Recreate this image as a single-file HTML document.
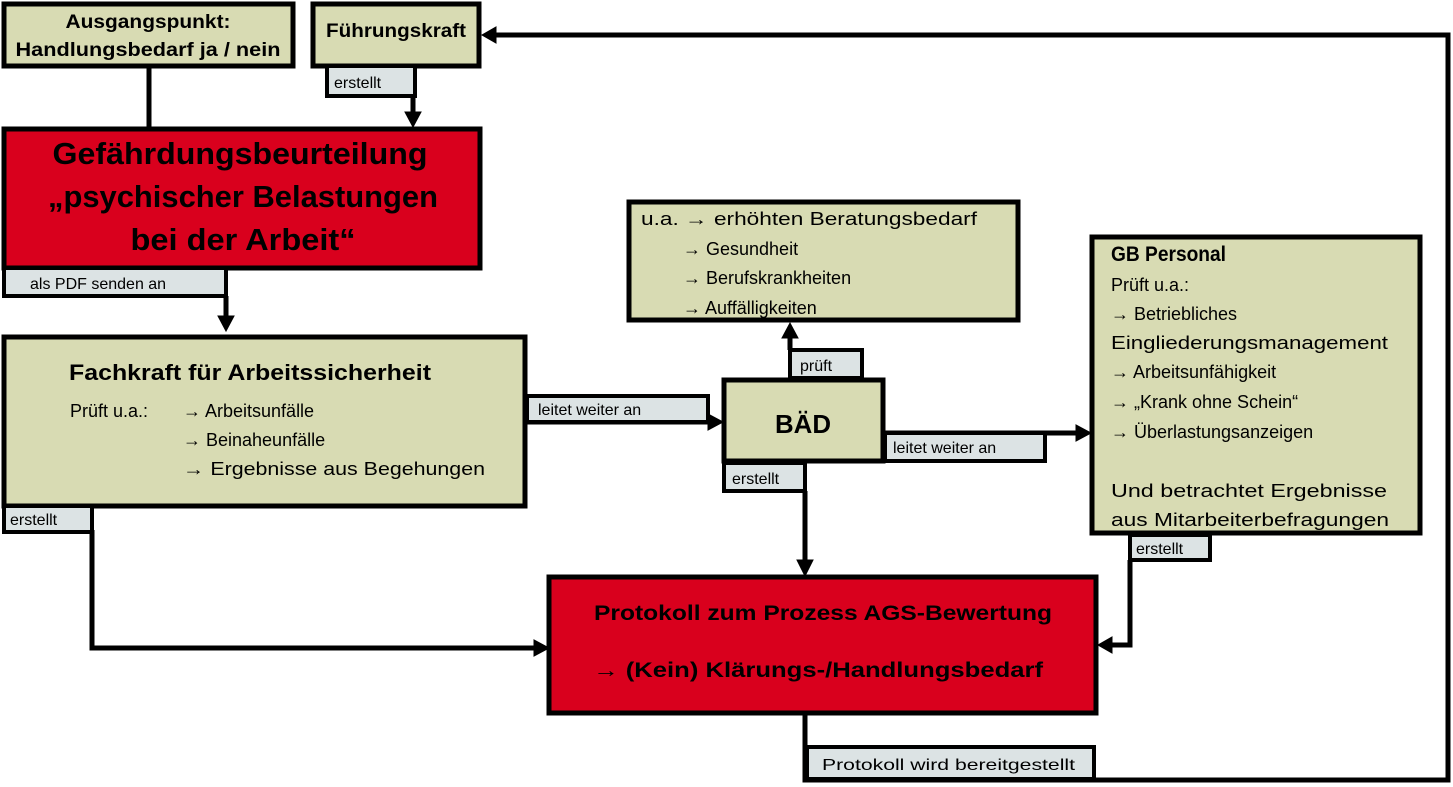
<!DOCTYPE html>
<html><head><meta charset="utf-8"><style>
html,body{margin:0;padding:0;background:#fff;}
svg{display:block;font-family:"Liberation Sans",sans-serif;}
</style></head><body>
<svg width="1453" height="787" viewBox="0 0 1453 787" xmlns="http://www.w3.org/2000/svg">
<defs>
<marker id="a" markerWidth="8" markerHeight="8" refX="7" refY="4" orient="auto" markerUnits="userSpaceOnUse"><path d="M0,0 L8,4 L0,8 z" fill="#000"/></marker>
</defs>
<g stroke="#000" stroke-width="5" fill="none">
<line x1="149" y1="68" x2="149" y2="128"/>
<path d="M413 96 V116"/><path d="M405 112 L421 112 L413 127 z" fill="#000" stroke-width="1"/>
<path d="M226 296 V318"/><path d="M218 316 L234 316 L226 331 z" fill="#000" stroke-width="1"/>
<path d="M92 530 V648 H536"/><path d="M534 640 L534 656 L549 648 z" fill="#000" stroke-width="1"/>
<path d="M527 422 H710"/><path d="M708 414 L708 430 L723 422 z" fill="#000" stroke-width="1"/>
<path d="M790 350 V336"/><path d="M782 338 L798 338 L790 323 z" fill="#000" stroke-width="1"/>
<path d="M885 433 H1078"/><path d="M1076 425 L1076 441 L1091 433 z" fill="#000" stroke-width="1"/>
<path d="M805 491 V562"/><path d="M797 560 L813 560 L805 576 z" fill="#000" stroke-width="1"/>
<path d="M1130 560 V645 H1110"/><path d="M1112 637 L1112 653 L1098 645 z" fill="#000" stroke-width="1"/>
<path d="M805 715 V780 H1448 V35 H494"/><path d="M496 27 L496 43 L482 35 z" fill="#000" stroke-width="1"/>
</g>
<g stroke="#000" stroke-width="5">
<rect x="4" y="4" width="289" height="62" fill="#d8dbb3"/>
<rect x="313" y="4" width="166" height="62" fill="#d8dbb3"/>
<rect x="4" y="129" width="476" height="139" fill="#d9001d"/>
<rect x="4" y="337" width="521" height="169" fill="#d8dbb3"/>
<rect x="629" y="202" width="389" height="118" fill="#d8dbb3"/>
<rect x="724" y="380" width="159" height="81" fill="#d8dbb3"/>
<rect x="1092" y="237" width="328" height="296" fill="#d8dbb3"/>
<rect x="549" y="577" width="547" height="136" fill="#d9001d"/>
</g>
<g stroke="#000" stroke-width="4" fill="#dce3e4">
<rect x="327" y="66" width="88" height="30"/>
<rect x="4" y="268" width="222" height="28"/>
<rect x="4" y="506" width="88" height="26"/>
<rect x="527" y="396" width="181" height="26"/>
<rect x="790" y="350" width="72" height="28"/>
<rect x="885" y="433" width="160" height="28"/>
<rect x="724" y="463" width="81" height="28"/>
<rect x="1130" y="535" width="80" height="25"/>
<rect x="807" y="747" width="287" height="32"/>
</g>
<g fill="#000" font-weight="bold" font-size="19" text-anchor="middle">
<text x="148" y="28" textLength="165" lengthAdjust="spacingAndGlyphs">Ausgangspunkt:</text>
<text x="148" y="56" textLength="265" lengthAdjust="spacingAndGlyphs">Handlungsbedarf  ja / nein</text>
<text x="396" y="37" textLength="140" lengthAdjust="spacingAndGlyphs">Führungskraft</text>
<text x="240" y="164" font-size="31" textLength="375" lengthAdjust="spacingAndGlyphs">Gefährdungsbeurteilung</text>
<text x="243" y="207" font-size="31" textLength="390" lengthAdjust="spacingAndGlyphs">„psychischer Belastungen</text>
<text x="243" y="250" font-size="31" textLength="225" lengthAdjust="spacingAndGlyphs">bei der Arbeit“</text>
<text x="250" y="380" font-size="22" textLength="362" lengthAdjust="spacingAndGlyphs">Fachkraft für Arbeitssicherheit</text>
<text x="803" y="433" font-size="26" textLength="56" lengthAdjust="spacingAndGlyphs">BÄD</text>
<text x="823" y="620" font-size="21" textLength="458" lengthAdjust="spacingAndGlyphs">Protokoll zum Prozess AGS-Bewertung</text>
<text x="818" y="677" font-size="21" textLength="450" lengthAdjust="spacingAndGlyphs">→ (Kein) Klärungs-/Handlungsbedarf</text>
<text x="1111" y="261" font-size="21" text-anchor="start" textLength="115" lengthAdjust="spacingAndGlyphs">GB Personal</text>
</g>
<g fill="#000" font-size="18">
<text x="70" y="417">Prüft u.a.:</text>
<text x="183" y="417">→ Arbeitsunfälle</text>
<text x="183" y="446">→ Beinaheunfälle</text>
<text x="183" y="475" textLength="302" lengthAdjust="spacingAndGlyphs">→ Ergebnisse aus Begehungen</text>
<text x="641" y="225" textLength="336" lengthAdjust="spacingAndGlyphs">u.a. → erhöhten Beratungsbedarf</text>
<text x="683" y="255">→ Gesundheit</text>
<text x="683" y="284">→ Berufskrankheiten</text>
<text x="683" y="314">→ Auffälligkeiten</text>
<text x="1111" y="291">Prüft u.a.:</text>
<text x="1111" y="320">→ Betriebliches</text>
<text x="1111" y="349" textLength="277" lengthAdjust="spacingAndGlyphs">Eingliederungsmanagement</text>
<text x="1111" y="378">→ Arbeitsunfähigkeit</text>
<text x="1111" y="408">→ „Krank ohne Schein“</text>
<text x="1111" y="438">→ Überlastungsanzeigen</text>
<text x="1111" y="497" textLength="276" lengthAdjust="spacingAndGlyphs">Und betrachtet Ergebnisse</text>
<text x="1111" y="526" textLength="278" lengthAdjust="spacingAndGlyphs">aus Mitarbeiterbefragungen</text>
</g>
<g fill="#000" font-size="16">
<text x="334" y="88">erstellt</text>
<text x="30" y="289">als PDF senden an</text>
<text x="10" y="525">erstellt</text>
<text x="538" y="415">leitet weiter an</text>
<text x="800" y="371">prüft</text>
<text x="893" y="453">leitet weiter an</text>
<text x="732" y="484">erstellt</text>
<text x="1136" y="554">erstellt</text>
<text x="822" y="770" textLength="253" lengthAdjust="spacingAndGlyphs">Protokoll wird bereitgestellt</text>
</g>
</svg>
</body></html>
